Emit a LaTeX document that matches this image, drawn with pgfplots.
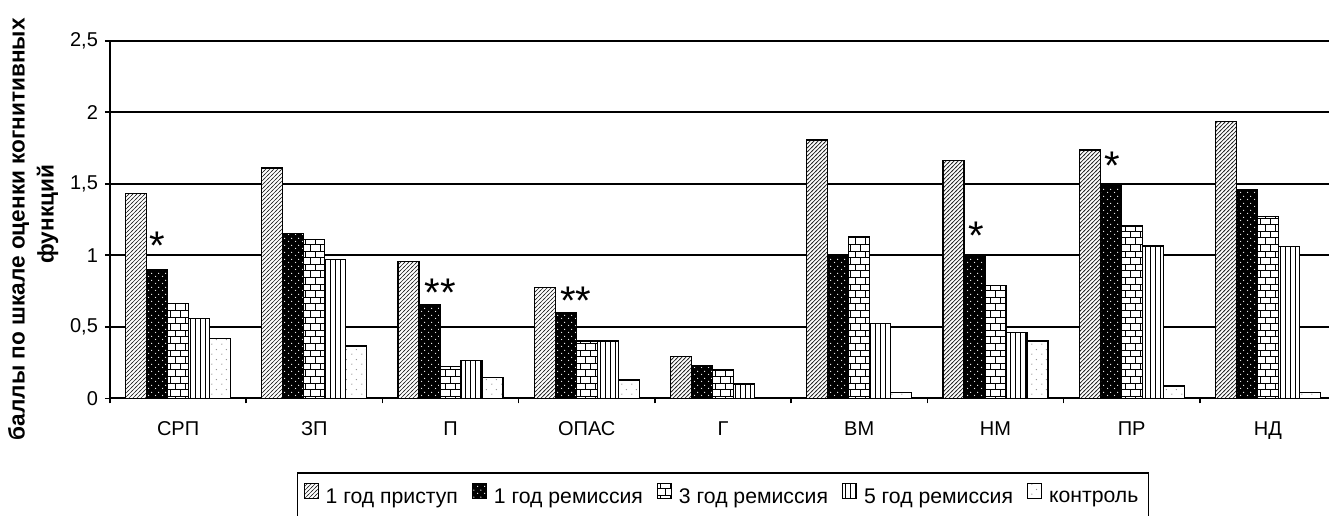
\documentclass[border=0pt]{standalone}
\usepackage{fontspec}
\setmainfont{Liberation Sans}
\usepackage{pgfplots}
\pgfplotsset{compat=1.18}
\usetikzlibrary{patterns}

\pgfdeclarepatternformonly{finehatch}{\pgfqpoint{-0.5pt}{-0.5pt}}{\pgfqpoint{2.5pt}{2.5pt}}{\pgfqpoint{2pt}{2pt}}{%
  \pgfsetlinewidth{0.35pt}%
  \pgfpathmoveto{\pgfqpoint{-0.5pt}{-0.5pt}}\pgfpathlineto{\pgfqpoint{2.5pt}{2.5pt}}\pgfusepath{stroke}}
\pgfdeclarepatternformonly{mybricks}{\pgfqpoint{-0.3pt}{-0.3pt}}{\pgfqpoint{5.3pt}{6.9pt}}{\pgfqpoint{5pt}{6.6pt}}{%
  \pgfsetlinewidth{0.45pt}%
  \pgfpathmoveto{\pgfqpoint{0pt}{0pt}}\pgfpathlineto{\pgfqpoint{5pt}{0pt}}%
  \pgfpathmoveto{\pgfqpoint{0pt}{3.3pt}}\pgfpathlineto{\pgfqpoint{5pt}{3.3pt}}%
  \pgfpathmoveto{\pgfqpoint{0pt}{0pt}}\pgfpathlineto{\pgfqpoint{0pt}{3.3pt}}%
  \pgfpathmoveto{\pgfqpoint{2.5pt}{3.3pt}}\pgfpathlineto{\pgfqpoint{2.5pt}{6.6pt}}%
  \pgfusepath{stroke}}
\pgfdeclarepatternformonly{vlines}{\pgfqpoint{-0.5pt}{0pt}}{\pgfqpoint{0.5pt}{1pt}}{\pgfqpoint{2.5pt}{1pt}}{%
  \pgfsetlinewidth{0.45pt}%
  \pgfpathmoveto{\pgfqpoint{0pt}{-0.1pt}}\pgfpathlineto{\pgfqpoint{0pt}{1.1pt}}\pgfusepath{stroke}}
\pgfdeclarepatternformonly{wdots}{\pgfqpoint{0pt}{0pt}}{\pgfqpoint{3.5pt}{3.5pt}}{\pgfqpoint{3.5pt}{3.5pt}}{%
  \pgfpathcircle{\pgfqpoint{0.9pt}{0.9pt}}{0.35pt}%
  \pgfpathcircle{\pgfqpoint{2.65pt}{2.65pt}}{0.35pt}%
  \pgfusepath{fill}}
\pgfdeclarepatternformonly{sparsedots}{\pgfqpoint{0pt}{0pt}}{\pgfqpoint{5pt}{5pt}}{\pgfqpoint{5pt}{5pt}}{%
  \pgfpathcircle{\pgfqpoint{1pt}{1pt}}{0.35pt}%
  \pgfpathcircle{\pgfqpoint{3.5pt}{3.5pt}}{0.35pt}%
  \pgfusepath{fill}}

\pgfplotsset{/pgfplots/ybar legend/.style={/pgfplots/legend image code/.code={%
  \draw[##1, line width=0.5pt] (0pt,-0.3pt) rectangle (7pt,7.2pt);}}}

\begin{document}
\begin{tikzpicture}
\begin{axis}[
  at={(0pt,0pt)}, anchor=south west,
  scale only axis, width=613pt, height=178.8pt,
  xmin=-0.5, xmax=8.5, ymin=0, ymax=2.5,
  clip=false,
  ybar=0pt, bar width=10.5pt,
  axis line style={black, line width=0.9pt},
  ytick={0,0.5,1,1.5,2,2.5},
  ymajorgrids, grid style={black, line width=0.9pt},
  xtick={0,1,2,3,4,5,6,7,8},
  xticklabels={СРП,ЗП,П,ОПАС,Г,ВМ,НМ,ПР,НД},
  minor xtick={-0.5,0.5,1.5,2.5,3.5,4.5,5.5,6.5,7.5,8.5},
  tick pos=left, tick align=outside,
  major tick length=2.5pt, minor tick length=2.5pt,
  tick style={black, line width=0.8pt},
  major x tick style={draw=none},
  ticklabel style={font=\fontsize{10}{12}\selectfont},
  xticklabel style={yshift=-5.5pt},
  /pgf/number format/use comma,
  /pgf/number format/assume math mode=true,
  ylabel={баллы по шкале оценки когнитивных},
  ylabel style={font=\bfseries\fontsize{11.3}{14}\selectfont,
    at={(axis description cs:-0.0745,0.473)}, anchor=center},
  legend columns=5,
  legend style={at={(axis description cs:0.5,-0.207)}, anchor=north,
    draw=black, line width=0.8pt, inner ysep=5pt, inner xsep=3pt,
    font=\fontsize{10.6}{12}\selectfont,
    /tikz/every odd column/.append style={column sep=1.5pt},
    /tikz/every even column/.append style={column sep=5pt}},
]
\addplot[draw=black, line width=0.6pt, preaction={fill=white}, pattern=finehatch, pattern color=black!85]
  coordinates {(0,1.43) (1,1.61) (2,0.955) (3,0.776) (4,0.29) (5,1.806) (6,1.66) (7,1.736) (8,1.934)};
\addplot[draw=black, line width=0.6pt, preaction={fill=black}, pattern=wdots, pattern color=white]
  coordinates {(0,0.90) (1,1.15) (2,0.657) (3,0.60) (4,0.226) (5,1.00) (6,1.00) (7,1.49) (8,1.457)};
\addplot[draw=black, line width=0.6pt, preaction={fill=white}, pattern=mybricks, pattern color=black]
  coordinates {(0,0.66) (1,1.11) (2,0.22) (3,0.40) (4,0.198) (5,1.13) (6,0.79) (7,1.205) (8,1.27)};
\addplot[draw=black, line width=0.6pt, preaction={fill=white}, pattern=vlines, pattern color=black]
  coordinates {(0,0.557) (1,0.97) (2,0.263) (3,0.40) (4,0.10) (5,0.524) (6,0.46) (7,1.065) (8,1.06)};
\addplot[draw=black, line width=0.6pt, preaction={fill=white}, pattern=sparsedots, pattern color=black!45]
  coordinates {(0,0.417) (1,0.366) (2,0.144) (3,0.128) (5,0.042) (6,0.40) (7,0.086) (8,0.042)};
\legend{1 год приступ,1 год ремиссия,3 год ремиссия,5 год ремиссия,контроль}
\node[font=\fontsize{20}{20}\selectfont, anchor=base, yshift=-11.5pt] at (axis cs:-0.154,1.13) {*};
\node[font=\fontsize{20}{20}\selectfont, anchor=base, yshift=-11.5pt] at (axis cs:1.923,0.806) {**};
\node[font=\fontsize{20}{20}\selectfont, anchor=base, yshift=-11.5pt] at (axis cs:2.92,0.745) {**};
\node[font=\fontsize{20}{20}\selectfont, anchor=base, yshift=-11.5pt] at (axis cs:5.86,1.20) {*};
\node[font=\fontsize{20}{20}\selectfont, anchor=base, yshift=-11.5pt] at (axis cs:6.86,1.69) {*};
\node[font=\bfseries\fontsize{11.3}{14}\selectfont, rotate=90, anchor=center]
  at (axis description cs:-0.051,0.515) {функций};
\end{axis}
\pgfresetboundingbox
\useasboundingbox (-55pt,-58.35pt) rectangle (609.5pt,199.15pt);
\end{tikzpicture}
\end{document}
